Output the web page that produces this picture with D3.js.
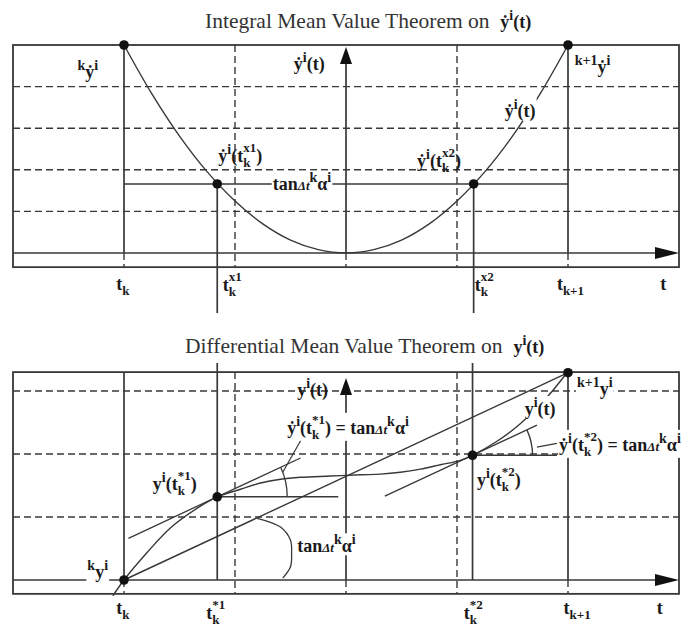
<!DOCTYPE html>
<html>
<head>
<meta charset="utf-8">
<script src="https://cdn.jsdelivr.net/npm/d3@7"></script>
<style>
  body { margin: 0; background: #fff; }
  svg { display: block; }
</style>
</head>
<body>
<script>
// t axis in grid units: t_k = 0, t_{k+1} = 4, y-axis at 2
var dashedT = [1, 3];
var solidT = [0, 2, 4];
var topGridV = [1, 2, 3, 4];
var botGridV = [1, 2, 3];

// upper panel: derivative curve
var topCurveT = [0, 0.25, 0.5, 0.75, 1, 1.25, 1.5, 1.75, 2, 2.25, 2.5, 2.75, 3, 3.25, 3.5, 3.75, 4];
var topCurveV = [5, 3.83, 2.81, 1.95, 1.25, 0.70, 0.31, 0.08, 0, 0.08, 0.31, 0.70, 1.25, 1.95, 2.81, 3.83, 5];
var topMeanV = 1.66;
var topMeanT = [0.84, 3.15];
var topEndT = [0, 4];
var topEndV = [5, 5];

// lower panel: y curve
var botCurveT = [-0.10, 0, 0.21, 0.42, 0.66, 0.84, 1.05, 1.23, 1.41, 1.59, 1.86, 2.13, 2.31, 2.49, 2.67, 2.85, 3.03, 3.14, 3.35, 3.57, 3.82, 3.99];
var botCurveV = [-0.25, 0, 0.44, 0.83, 1.14, 1.32, 1.44, 1.54, 1.60, 1.63, 1.65, 1.67, 1.68, 1.71, 1.76, 1.83, 1.90, 1.98, 2.19, 2.48, 2.92, 3.29];
var chordT = [0, 4];
var chordV = [0, 3.29];
var tanPtT = [0.84, 3.14];
var tanPtV = [1.32, 1.98];
var tanFromT = [0.04, 2.35];
var tanToT = [1.59, 3.72];
var flatToT = [1.93, 3.90];
var arcRadius = [70, 60];
var chordArcT = [1.20, 1.41, 1.50, 1.51, 1.50, 1.43];
var chordArcV = [0.98, 0.84, 0.63, 0.43, 0.21, 0.03];
var leaderT = [[1.61, 1.43], [3.72, 3.90]];
var leaderV = [[2.27, 1.71], [2.11, 2.17]];

var W = 688, H = 628;
var INK = "#383838";

var svg = d3.select("body").append("svg")
    .attr("width", W)
    .attr("height", H)
    .style("font-family", "'Liberation Serif', 'Times New Roman', serif");

var x = d3.scaleLinear().domain([-1, 5]).range([13, 679]);
var yTop = d3.scaleLinear().domain([0, 5]).range([253, 45]);
var yBot = d3.scaleLinear().domain([0, 3]).range([580, 391]);

function seg(g, x1, y1, x2, y2, dashed, w) {
  return g.append("line")
      .attr("x1", x1).attr("y1", y1).attr("x2", x2).attr("y2", y2)
      .attr("stroke", INK)
      .attr("stroke-width", w || 1.5)
      .attr("stroke-dasharray", dashed ? "7,4" : null);
}

var SIZE = { n: 18, sup: 14, sub: 13, it: 13, title: 21.5 };
var NB = "\u00a0";

// one text per label, laid out tspan by tspan: [text, kind, stackOnPrevious]
function rich(g, px, py, parts, bg) {
  var lg = g.append("g");
  var txt = lg.append("text").attr("fill", "#1a1a1a");
  var cx = px, lastX = px;
  parts.forEach(function(p) {
    var k = p[1] || "n";
    var sx = p[2] ? lastX : cx;
    var dy = k == "sup" ? (p[2] ? -10 : -8) : (k == "sub" ? 5 : 0);
    var ts = txt.append("tspan")
        .attr("x", sx)
        .attr("y", py + dy)
        .attr("font-size", p[2] ? 13 : SIZE[k])
        .attr("font-weight", k == "title" ? "normal" : "bold")
        .attr("font-style", k == "it" ? "italic" : "normal")
        .attr("fill", k == "title" ? "#333" : null)
        .text(p[0]);
    var w = ts.node().getComputedTextLength();
    if (!p[2]) lastX = sx;
    cx = Math.max(cx, sx + w);
  });
  if (bg) {
    var b = txt.node().getBBox();
    lg.insert("rect", ":first-child")
        .attr("x", b.x - 1).attr("y", b.y + 1)
        .attr("width", b.width + 2).attr("height", b.height - 2)
        .attr("fill", "#fff");
  }
  return lg;
}

function tanLabel() {
  return [["tan"], ["\u0394t", "it"], ["k", "sup"], ["\u03b1"], ["i", "sup"]];
}

function frame(g, y, vMin, vMax, gridV, arrowTip) {
  var x0 = x(-1), x1 = x(5);
  gridV.forEach(function(v) { seg(g, x0, y(v), x1, y(v), true, 1.4); });
  dashedT.forEach(function(t) { seg(g, x(t), y(vMax), x(t), y(vMin), true, 1.4); });
  solidT.forEach(function(t) { seg(g, x(t), y(0), x(t), y(vMin), true, 1.4); });

  g.append("rect")
      .attr("x", x0).attr("y", y(vMax))
      .attr("width", x1 - x0).attr("height", y(vMin) - y(vMax))
      .attr("fill", "none").attr("stroke", INK).attr("stroke-width", 1.8);

  // t axis with arrow
  seg(g, x0, y(0), x1 - 18, y(0), false, 1.7);
  g.append("path")
      .attr("d", "M" + x1 + "," + y(0) + "L" + (x1 - 24) + "," + (y(0) - 6) +
                 "L" + (x1 - 24) + "," + (y(0) + 6) + "Z")
      .attr("fill", "#111");

  // vertical axis with arrow
  var ax = x(2);
  seg(g, ax, y(0), ax, arrowTip + 14, false, 1.7);
  g.append("path")
      .attr("d", "M" + ax + "," + arrowTip + "L" + (ax - 6) + "," + (arrowTip + 17) +
                 "L" + (ax + 6) + "," + (arrowTip + 17) + "Z")
      .attr("fill", "#111");
}

function dot(g, px, py) {
  g.append("circle").attr("cx", px).attr("cy", py).attr("r", 4.8).attr("fill", "#111");
}

// ---------------- upper panel ----------------
var topG = svg.append("g");
frame(topG, yTop, -0.34, 5, topGridV, 47);

topEndT.forEach(function(t) { seg(topG, x(t), yTop(5), x(t), yTop(0), false, 1.7); });

// mean value line and the two points reaching it
seg(topG, x(topEndT[0]), yTop(topMeanV), x(topEndT[1]), yTop(topMeanV), false, 1.5);
topMeanT.forEach(function(t) { seg(topG, x(t), yTop(topMeanV), x(t), 313, false, 1.7); });

var topLine = d3.line()
    .x(function(d) { return x(d[0]); })
    .y(function(d) { return yTop(d[1]); })
    .curve(d3.curveCatmullRom);
topG.append("path")
    .datum(d3.zip(topCurveT, topCurveV))
    .attr("d", topLine)
    .attr("fill", "none").attr("stroke", INK).attr("stroke-width", 1.4);

rich(topG, 205, 28, [["Integral Mean Value Theorem on" + NB + NB, "title"], ["\u1e8f"], ["i", "sup"], ["(t)"]]);

rich(topG, x(-0.42), yTop(4.21), [["k", "sup"], ["\u1e8f"], ["i", "sup"]]);
rich(topG, x(1.53), yTop(4.40), [["\u1e8f"], ["i", "sup"], ["(t)"]]);
rich(topG, x(0.85), yTop(2.18), [["\u1e8f"], ["i", "sup"], ["(t"], ["k", "sub"], ["x1", "sup", true], [")"]]);
rich(topG, x(1.34), yTop(1.52), tanLabel(), true);
rich(topG, x(2.64), yTop(2.06), [["\u1e8f"], ["i", "sup"], ["(t"], ["k", "sub"], ["x2", "sup", true], [")"]]);
rich(topG, x(3.43), yTop(3.27), [["\u1e8f"], ["i", "sup"], ["(t)"]], true);
rich(topG, x(4.06), yTop(4.33), [["k+1", "sup"], ["\u1e8f"], ["i", "sup"]]);

rich(topG, x(-0.07), 290, [["t"], ["k", "sub"]]);
rich(topG, x(0.89), 291, [["t"], ["k", "sub"], ["x1", "sup", true]]);
rich(topG, x(3.16), 291, [["t"], ["k", "sub"], ["x2", "sup", true]]);
rich(topG, x(3.90), 290, [["t"], ["k+1", "sub"]]);
rich(topG, x(4.83), 290, [["t"]]);

d3.zip(topEndT, topEndV).forEach(function(d) { dot(topG, x(d[0]), yTop(d[1])); });
topMeanT.forEach(function(t) { dot(topG, x(t), yTop(topMeanV)); });

// ---------------- lower panel ----------------
var botG = svg.append("g");
frame(botG, yBot, -0.22, 3.3, botGridV, 378);

seg(botG, x(0), yBot(3.3), x(0), yBot(0), false, 1.7);
seg(botG, x(4), yBot(3.3), x(4), yBot(0), false, 1.7);
tanPtT.forEach(function(t) { seg(botG, x(t), 363, x(t), yBot(0), false, 1.7); });

var slope = (chordV[1] - chordV[0]) / (chordT[1] - chordT[0]);

// chord
seg(botG, x(chordT[0]), yBot(chordV[0]), x(chordT[1]), yBot(chordV[1]), false, 1.4);

// tangents parallel to the chord, and horizontals at the touching points
tanPtT.forEach(function(t, i) {
  var v = tanPtV[i];
  seg(botG, x(tanFromT[i]), yBot(v + slope * (tanFromT[i] - t)),
            x(tanToT[i]), yBot(v + slope * (tanToT[i] - t)), false, 1.3);
  seg(botG, x(t), yBot(v), x(flatToT[i]), yBot(v), false, 1.5);
  var ang = Math.atan(slope * (yBot(0) - yBot(1)) / (x(1) - x(0)));
  var p = d3.path();
  p.arc(x(t), yBot(v), arcRadius[i], -ang, 0);
  botG.append("path").attr("d", p.toString())
      .attr("fill", "none").attr("stroke", INK).attr("stroke-width", 1.3);
  seg(botG, x(leaderT[i][0]), yBot(leaderV[i][0]), x(leaderT[i][1]), yBot(leaderV[i][1]), false, 1.2);
});

var botLine = d3.line()
    .x(function(d) { return x(d[0]); })
    .y(function(d) { return yBot(d[1]); })
    .curve(d3.curveCatmullRom);
botG.append("path")
    .datum(d3.zip(botCurveT, botCurveV))
    .attr("d", botLine)
    .attr("fill", "none").attr("stroke", INK).attr("stroke-width", 1.4);

botG.append("path")
    .datum(d3.zip(chordArcT, chordArcV))
    .attr("d", botLine)
    .attr("fill", "none").attr("stroke", INK).attr("stroke-width", 1.3);

rich(botG, 185, 353, [["Differential Mean Value Theorem on" + NB + NB, "title"], ["y"], ["i", "sup"], ["(t)"]]);

rich(botG, x(-0.33), yBot(0.03), [["k", "sup"], ["y"], ["i", "sup"]], true);
rich(botG, x(0.26), yBot(1.43), [["y"], ["i", "sup"], ["(t"], ["k", "sub"], ["*1", "sup", true], [")"]]);
rich(botG, x(1.56), yBot(2.92), [["y"], ["i", "sup"], ["(t)"]]);
rich(botG, x(1.47), yBot(2.32),
     [["\u1e8f"], ["i", "sup"], ["(t"], ["k", "sub"], ["*1", "sup", true], [")" + NB + "=" + NB]].concat(tanLabel()), true);
rich(botG, x(1.56), yBot(0.44), tanLabel(), true);
rich(botG, x(4.08), yBot(2.94), [["k+1", "sup"], ["y"], ["i", "sup"]], true);
rich(botG, x(3.61), yBot(2.62), [["y"], ["i", "sup"], ["(t)"]], true);
rich(botG, x(3.92), yBot(2.05),
     [["\u1e8f"], ["i", "sup"], ["(t"], ["k", "sub"], ["*2", "sup", true], [")" + NB + "=" + NB]].concat(tanLabel()), true);
rich(botG, x(3.18), yBot(1.50), [["y"], ["i", "sup"], ["(t"], ["k", "sub"], ["*2", "sup", true], [")"]]);

rich(botG, x(-0.07), 614, [["t"], ["k", "sub"]]);
rich(botG, x(0.74), 619, [["t"], ["k", "sub"], ["*1", "sup", true]]);
rich(botG, x(3.06), 619, [["t"], ["k", "sub"], ["*2", "sup", true]]);
rich(botG, x(3.96), 614, [["t"], ["k+1", "sub"]]);
rich(botG, x(4.80), 614, [["t"]]);

d3.zip(chordT, chordV).forEach(function(d) { dot(botG, x(d[0]), yBot(d[1])); });
d3.zip(tanPtT, tanPtV).forEach(function(d) { dot(botG, x(d[0]), yBot(d[1])); });
</script>
</body>
</html>
